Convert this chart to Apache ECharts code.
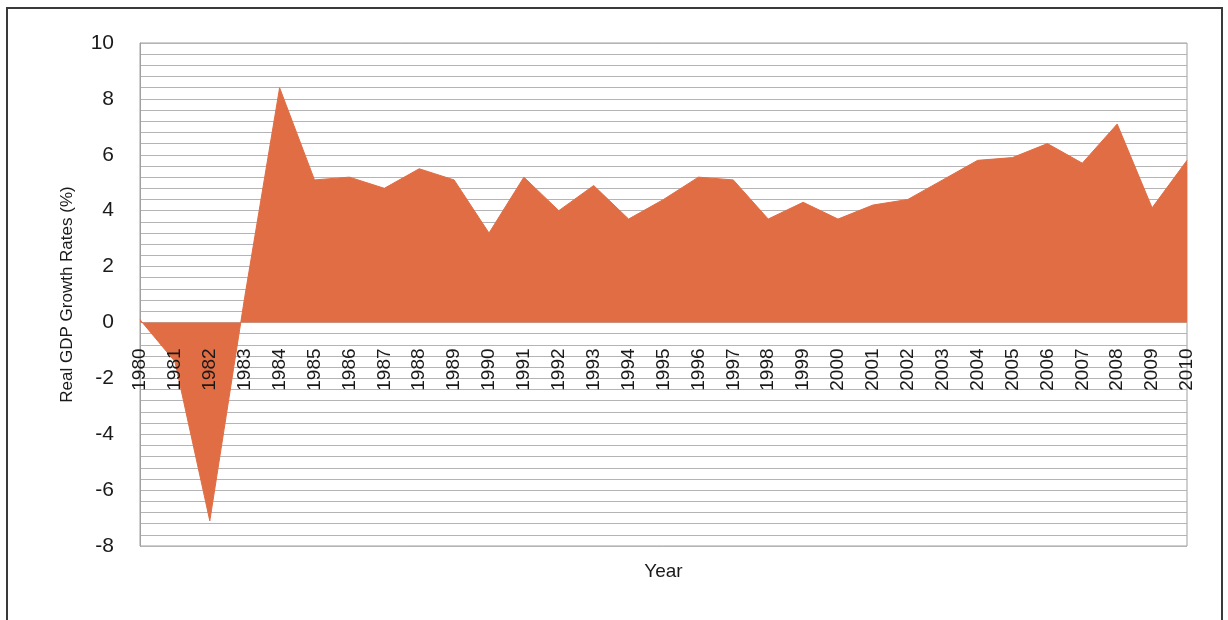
<!DOCTYPE html>
<html>
<head>
<meta charset="utf-8">
<title>Real GDP Growth Rates</title>
<script src="https://cdn.jsdelivr.net/npm/echarts@6/dist/echarts.min.js"></script>
<style>
  html, body { margin: 0; padding: 0; background: #ffffff; }
  #chart { width: 1228px; height: 620px; }
</style>
</head>
<body>
<div id="chart"></div>
<script>
// Annual real GDP growth, 1980–2010
const years = ['1980','1981','1982','1983','1984','1985','1986','1987','1988','1989',
               '1990','1991','1992','1993','1994','1995','1996','1997','1998','1999',
               '2000','2001','2002','2003','2004','2005','2006','2007','2008','2009','2010'];
const growthRates = [0.1, -1.4, -7.1, 0.9, 8.4, 5.1, 5.2, 4.8, 5.5, 5.1,
                     3.2, 5.2, 4.0, 4.9, 3.7, 4.4, 5.2, 5.1, 3.7, 4.3,
                     3.7, 4.2, 4.4, 5.1, 5.8, 5.9, 6.4, 5.7, 7.1, 4.1, 5.8];
const yAxisTicks = { min: -8, max: 10, step: 2 };

const FONT = '"Liberation Sans", Arial, sans-serif';
const GRID_GREY = '#b4b4b4';
const FILL = '#e06d44';

const GRID_TOP = 43;
const GRID_HEIGHT = 503;
// lift the year axis from the plot floor up to the zero line
const zeroLift = GRID_HEIGHT * (0 - yAxisTicks.min) / (yAxisTicks.max - yAxisTicks.min);

const chart = echarts.init(document.getElementById('chart'), null, { renderer: 'canvas' });

chart.setOption({
  backgroundColor: '#ffffff',
  animation: false,
  graphic: [{
    type: 'rect',
    shape: { x: 7, y: 8, width: 1215, height: 630 },
    style: { fill: 'none', stroke: '#3a3a3a', lineWidth: 2 },
    z: 100
  }],
  grid: {
    left: 140, right: 41, top: GRID_TOP, height: GRID_HEIGHT,
    show: true, borderColor: '#a0a0a0', borderWidth: 1,
    containLabel: false,
    outerBoundsMode: 'none'
  },
  xAxis: {
    type: 'category',
    data: years,
    boundaryGap: false,
    position: 'bottom',
    offset: -zeroLift,
    z: 10,
    name: 'Year',
    nameLocation: 'middle',
    nameGap: 240,
    nameTextStyle: { fontFamily: FONT, fontSize: 19, color: '#1a1a1a' },
    axisLine: { show: false, onZero: false },
    axisTick: { show: false },
    axisLabel: {
      interval: 0, rotate: 90, margin: 26,
      fontFamily: FONT, fontSize: 19, color: '#1a1a1a'
    },
    splitLine: { show: false }
  },
  yAxis: {
    type: 'value',
    min: yAxisTicks.min, max: yAxisTicks.max, interval: yAxisTicks.step,
    name: 'Real GDP Growth Rates (%)',
    nameLocation: 'middle',
    nameGap: 64,
    nameTextStyle: { fontFamily: FONT, fontSize: 17, color: '#1a1a1a' },
    axisLine: { show: true, lineStyle: { color: '#a0a0a0', width: 1 } },
    axisTick: { show: false },
    axisLabel: {
      margin: 26, fontFamily: FONT, fontSize: 21, color: '#1a1a1a',
      padding: [5, 0, 0, 0]
    },
    splitLine: { show: true, lineStyle: { color: GRID_GREY, width: 1.2 } },
    minorTick: { show: false, splitNumber: 5 },
    minorSplitLine: { show: true, lineStyle: { color: GRID_GREY, width: 1.2 } }
  },
  series: [{
    type: 'line',
    data: growthRates,
    showSymbol: false,
    symbol: 'none',
    lineStyle: { color: FILL, width: 1 },
    areaStyle: { color: FILL, opacity: 1 },
    z: 3
  }]
});
</script>
</body>
</html>
